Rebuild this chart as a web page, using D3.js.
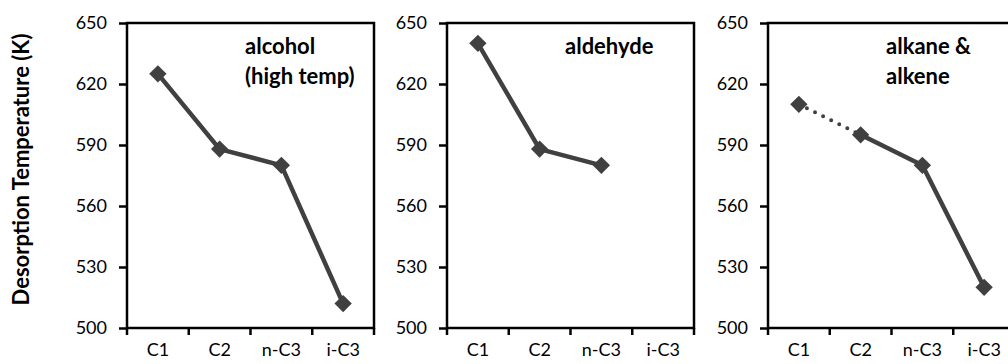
<!DOCTYPE html>
<html>
<head>
<meta charset="utf-8">
<script src="https://cdn.jsdelivr.net/npm/d3@7"></script>
<style>
  body { margin: 0; background: #fff; }
  text { font-family: Lato, "Open Sans", sans-serif; }
</style>
</head>
<body>
<div id="chart"></div>
<script>
const width = 1008;
const height = 364;

// data
const categories = ["C1", "C2", "n-C3", "i-C3"];
const alcoholValues = [625, 588, 580, 512];
const aldehydeValues = [640, 588, 580, null];
const alkaneValues = [610, 595, 580, 520];
const yTicks = [500, 530, 560, 590, 620, 650];
const panelTitles = [["alcohol", "(high temp)"], ["aldehyde"], ["alkane &", "alkene"]];
const seriesList = [alcoholValues, aldehydeValues, alkaneValues];

// layout
const panelLefts = [127, 447, 768];
const panelWidth = 247;
const plotTop = 23;
const plotBottom = 328;
const lineColor = "#404040";

const svg = d3.select("#chart").append("svg")
    .attr("width", width)
    .attr("height", height);

// y axis title
svg.append("text")
    .attr("transform", `translate(29, ${(plotTop + plotBottom) / 2 - 6}) rotate(-90)`)
    .attr("text-anchor", "middle")
    .style("font-size", "22px")
    .style("font-weight", "bold")
    .text("Desorption Temperature (K)");

const y = d3.scaleLinear().domain([500, 650]).range([plotBottom, plotTop]);

seriesList.forEach((values, i) => {
    const g = svg.append("g").attr("transform", `translate(${panelLefts[i]}, 0)`);

    const x = d3.scaleBand().domain(categories).range([0, panelWidth]);
    const cx = d => x(d) + x.bandwidth() / 2;

    // y axis ticks + labels
    const yAxis = d3.axisLeft(y).tickValues(yTicks).tickSize(8).tickPadding(12);
    const ya = g.append("g").call(yAxis);
    ya.select(".domain").remove();
    ya.selectAll(".tick line").attr("stroke", "#000").attr("stroke-width", 2.5);
    ya.selectAll(".tick text")
        .attr("fill", "#000")
        .style("font-size", "18px")
        .style("font-family", "Lato, sans-serif");

    // x ticks at category boundaries
    const bounds = categories.map(c => x(c)).concat([panelWidth]);
    g.selectAll(".xtick")
        .data(bounds)
        .enter()
        .append("line")
        .attr("x1", d => d)
        .attr("x2", d => d)
        .attr("y1", plotBottom)
        .attr("y2", plotBottom + 7)
        .attr("stroke", "#000")
        .attr("stroke-width", 2.5);

    g.selectAll(".xlabel")
        .data(categories)
        .enter()
        .append("text")
        .attr("x", d => cx(d))
        .attr("y", 356)
        .attr("text-anchor", "middle")
        .style("font-size", "18px")
        .text(d => d);

    // plot frame
    g.append("rect")
        .attr("x", 0)
        .attr("y", plotTop)
        .attr("width", panelWidth)
        .attr("height", plotBottom - plotTop)
        .attr("fill", "none")
        .attr("stroke", "#000")
        .attr("stroke-width", 2.5);

    // series
    const pts = categories.map((c, k) => ({ c: c, v: values[k] }));
    const segs = [];
    for (let k = 0; k < pts.length - 1; k++) {
        if (pts[k].v != null && pts[k + 1].v != null) {
            segs.push({ a: pts[k], b: pts[k + 1], dotted: i === 2 && k === 0 });
        }
    }
    g.selectAll(".seg")
        .data(segs)
        .enter()
        .append("line")
        .attr("x1", d => cx(d.a.c))
        .attr("y1", d => y(d.a.v))
        .attr("x2", d => cx(d.b.c))
        .attr("y2", d => y(d.b.v))
        .attr("stroke", lineColor)
        .attr("stroke-width", d => d.dotted ? 4 : 4.5)
        .attr("stroke-linecap", "round")
        .attr("stroke-dasharray", d => d.dotted ? "0 9" : null);

    const diamond = d3.symbol().type(d3.symbolSquare).size(150);
    g.selectAll(".pt")
        .data(pts.filter(d => d.v != null))
        .enter()
        .append("path")
        .attr("d", diamond)
        .attr("transform", d => `translate(${cx(d.c)}, ${y(d.v)}) rotate(45)`)
        .attr("fill", lineColor);

    // panel title
    const title = g.append("text")
        .attr("x", 118)
        .attr("y", 54)
        .style("font-size", "22px")
        .style("font-weight", "bold");
    panelTitles[i].forEach((line, k) => {
        title.append("tspan")
            .attr("x", 118)
            .attr("dy", k === 0 ? 0 : 30)
            .text(line);
    });
});
</script>
</body>
</html>
